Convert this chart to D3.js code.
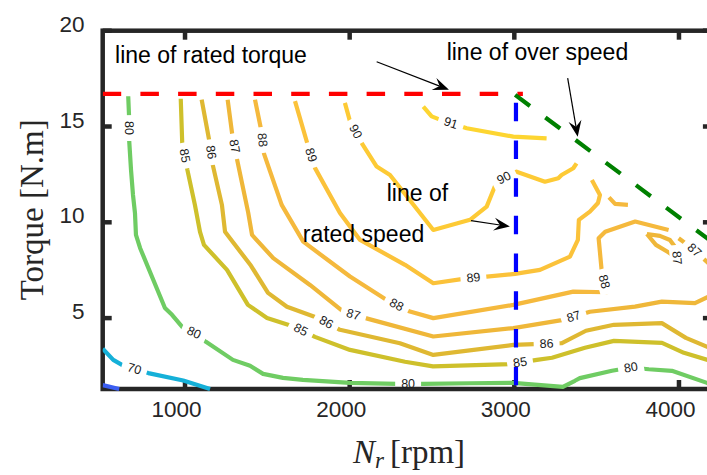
<!DOCTYPE html>
<html>
<head>
<meta charset="utf-8">
<script src="https://cdn.jsdelivr.net/npm/d3@7"></script>
<style>
body { margin: 0; background: #fff; }
svg { display: block; }
.tickLabel { font-family: "Liberation Sans", Arial, sans-serif; font-size: 22.5px; fill: #262626; }
.note { font-family: "Liberation Sans", Arial, sans-serif; font-size: 23px; fill: #000; }
.clabel { font-family: "Liberation Sans", Arial, sans-serif; font-size: 12.5px; fill: #1a1a1a; }
.axisTitle { font-family: "Liberation Serif", "Times New Roman", serif; font-size: 33px; fill: #262626; }
</style>
</head>
<body>
<script>
//ticks
var xTicks = [1000, 2000, 3000, 4000];
var yTicks = [5, 10, 15, 20];
//efficiency levels of the contours
var levels = [60, 70, 80, 85, 86, 87, 88, 89, 90, 91];

//contour lines, [speed rpm, torque N.m]
var eff60 = [[500,1.5],[600,1.3]];
var eff70 = [[500,3.40],[564,2.82],[625,2.52],[777,2.13],[989,1.74],[1152,1.3]];
var eff80 = [[655,16.58],[660,15.55],[661,14.25],[672,12.73],[684,11.43],[696,10.49],[702,9.34],[727,8.66],[878,5.53],[921,5.17],[988,4.49],[1054,4.23],[1127,3.76],[1291,2.82],[1395,2.51],[1474,2.09],[1595,1.88],[1716,1.78],[2002,1.62],[2287,1.57],[2445,1.57],[2730,1.6],[2992,1.62],[3295,1.41],[3368,1.73],[3398,1.87],[3593,2.25],[3708,2.42],[3817,2.33],[3957,2.25],[4170,1.62],[4200,1.5]];
var eff85 = [[974,16.45],[983,14.14],[1014,12.75],[1060,10.91],[1091,9.5],[1115,8.82],[1255,7.52],[1382,5.69],[1498,5.01],[1668,4.54],[1789,4.02],[2002,3.34],[2336,2.72],[2506,2.48],[2973,2.6],[3137,2.82],[3229,2.93],[3429,3.45],[3605,3.81],[3897,3.71],[4030,3.19],[4200,2.75]];
var eff86 = [[1101,16.4],[1146,14.31],[1168,13.01],[1224,10.91],[1243,9.51],[1273,9.17],[1401,7.73],[1504,6.32],[1619,5.59],[1807,5.01],[1941,4.39],[2305,3.69],[2508,3.08],[2994,3.6],[3289,3.69],[3435,4.34],[3605,4.65],[3896,4.74],[4042,3.97],[4200,3.4]];
var eff87 = [[1259,16.4],[1287,14.57],[1314,13.36],[1384,10.49],[1407,9.34],[1536,8.13],[1759,6.73],[1961,5.34],[2113,4.96],[2508,4.04],[2994,4.48],[3297,4.91],[3459,5.33],[3733,5.6],[3896,5.86],[4097,5.78],[4200,6.2]];
var eff87b = [[3805,9.39],[3884,9.29],[3945,9.08],[3981,8.66],[3987,8.14],[3933,8.45],[3860,8.82],[3805,9.39]];
var eff87c = [[3998,9.17],[4079,8.65],[4200,7.7]];
var eff88 = [[1425,16.4],[1460,14.92],[1480,13.57],[1516,12.67],[1587,10.91],[1718,8.99],[2002,7.17],[2225,5.95],[2366,5.34],[2508,5.0],[2994,5.69],[3358,6.38],[3563,6.35],[3532,7.34],[3512,9.17],[3552,9.51],[3734,10.04],[3937,9.6]];
var eff88b = [[3575,11.3],[3612,10.96],[3690,10.91]];
var eff89 = [[1668,16.32],[1742,14.14],[1789,12.84],[1941,10.49],[2063,9.08],[2336,7.78],[2508,6.82],[2690,7.05],[3004,7.31],[3156,7.52],[3338,8.21],[3386,9.08],[3392,10.13],[3459,10.56],[3508,11.01],[3520,11.43],[3471,12.21]];
var eff90 = [[1971,16.23],[2002,15.27],[2079,14.05],[2164,12.91],[2245,12.47],[2508,9.6],[2731,10.13],[2832,10.82],[2893,12.12],[3014,12.64],[3186,12.12],[3267,12.3],[3287,12.47],[3358,12.82],[3378,13.08]];
var eff91 = [[2447,16.04],[2498,15.53],[2548,15.36],[2711,14.91],[2994,14.47],[3196,14.38]];

//inline labels [level, rpm, torque]
var labelSpots = [
    [70, 696, 2.47],
    [80, 660, 14.92], [80, 1054, 4.23], [80, 2355, 1.6], [80, 3708, 2.42],
    [85, 1010, 13.5], [85, 1710, 4.5], [85, 3034, 2.72],
    [86, 1168, 13.67], [86, 1860, 4.82], [86, 3196, 3.7],
    [87, 1314, 13.99], [87, 2022, 5.17], [87, 3358, 5.15], [87, 3987, 8.14], [87, 4095, 8.55],
    [88, 1470, 14.3], [88, 2285, 5.69], [88, 3548, 6.9],
    [89, 1769, 13.52], [89, 2751, 7.15],
    [90, 2043, 14.77], [90, 2923, 12.56],
    [91, 2619, 15.3]
];

//operating limits
var ratedTorque = [[500,16.7],[3052,16.7]];
var ratedSpeed = [[3010,1.5],[3010,16.7]];
var overSpeed = [[3005,16.65],[4200,8.98]];

//annotations
var notes = [["line of rated torque",575,18.32],["line of over speed",2589,18.47],["line of",2225,11.12],["rated speed",1715,8.99]];
var arrows = [[2164,18.38,2603,16.92],[3324,17.52,3385,14.47],[2737,10.09,2973,9.78]];

var width = 707, height = 475;

var svg = d3.select("body").append("svg")
    .attr("width", width)
    .attr("height", height);

var x = d3.scaleLinear().domain([500, 4200]).range([102.7, 711.9]);
var y = d3.scaleLinear().domain([1.3, 20]).range([389, 30.7]);

var color = d3.scaleOrdinal()
    .domain(levels)
    .range(["#3b5ef2","#15b0d8","#6fcc63","#cec02b","#dfb832","#efb739","#f5b93d","#fbc23a","#fdca35","#fdd531"]);

var pieces = [[60,eff60],[70,eff70],[80,eff80],[85,eff85],[86,eff86],[87,eff87],[87,eff87b],[87,eff87c],
    [88,eff88],[88,eff88b],[89,eff89],[90,eff90],[91,eff91]];

var defs = svg.append("defs");
defs.append("clipPath").attr("id", "plotClip")
    .append("rect")
    .attr("x", x(500)).attr("y", y(20))
    .attr("width", x(4200) - x(500)).attr("height", y(1.3) - y(20) + 3);

//axes box and ticks
var axis = svg.append("g").attr("class", "axis");
axis.append("rect")
    .attr("x", x(500)).attr("y", y(20))
    .attr("width", x(4200) - x(500)).attr("height", y(1.3) - y(20))
    .attr("fill", "none").attr("stroke", "#262626").attr("stroke-width", 4.5);

xTicks.forEach(function(t){
    axis.append("line").attr("x1", x(t)).attr("x2", x(t)).attr("y1", y(1.3)).attr("y2", y(1.3) - 9)
        .attr("stroke", "#262626").attr("stroke-width", 4.5);
    axis.append("line").attr("x1", x(t)).attr("x2", x(t)).attr("y1", y(20)).attr("y2", y(20) + 9)
        .attr("stroke", "#262626").attr("stroke-width", 4.5);
    axis.append("text").attr("class", "tickLabel")
        .attr("x", x(t) - 8.5).attr("y", 416.5)
        .attr("text-anchor", "middle").text(t);
});
yTicks.forEach(function(t){
    axis.append("line").attr("x1", x(500)).attr("x2", x(500) + 9).attr("y1", y(t)).attr("y2", y(t))
        .attr("stroke", "#262626").attr("stroke-width", 4.5);
    axis.append("line").attr("x1", x(4200)).attr("x2", x(4200) - 9).attr("y1", y(t)).attr("y2", y(t))
        .attr("stroke", "#262626").attr("stroke-width", 4.5);
    axis.append("text").attr("class", "tickLabel")
        .attr("x", 84.5).attr("y", y(t) + 1)
        .attr("text-anchor", "end").text(t);
});

//axis titles
svg.append("text").attr("class", "axisTitle")
    .attr("transform", "translate(43," + (y(20) + y(1.3)) / 2 + ") rotate(-90)")
    .attr("text-anchor", "middle")
    .text("Torque [N.m]");

var xt = svg.append("text").attr("class", "axisTitle")
    .attr("x", 409).attr("y", 463)
    .attr("text-anchor", "middle");
xt.append("tspan").attr("font-style", "italic").text("N");
xt.append("tspan").attr("font-style", "italic").attr("font-size", "23px").attr("dy", 5).text("r");
xt.append("tspan").attr("dy", -5).attr("dx", 6).text("[rpm]");

//place each label on its contour, angle from nearest segment
var labels = labelSpots.map(function(s){
    var px = x(s[1]), py = y(s[2]);
    var best = null;
    pieces.forEach(function(p){
        if (p[0] !== s[0]) return;
        var pts = p[1];
        for (var i = 0; i < pts.length - 1; i++){
            var ax = x(pts[i][0]), ay = y(pts[i][1]), bx = x(pts[i+1][0]), by = y(pts[i+1][1]);
            var dx = bx - ax, dy = by - ay;
            var len2 = dx*dx + dy*dy;
            var t = len2 ? ((px - ax)*dx + (py - ay)*dy) / len2 : 0;
            t = Math.max(0, Math.min(1, t));
            var qx = ax + t*dx, qy = ay + t*dy;
            var d = (qx - px)*(qx - px) + (qy - py)*(qy - py);
            if (!best || d < best.d) best = {d: d, x: qx, y: qy, a: Math.atan2(dy, dx) * 180 / Math.PI};
        }
    });
    var a = best.a;
    if (a > 90) a -= 180;
    if (a < -90) a += 180;
    return {level: s[0], x: best.x, y: best.y, a: a};
});

//contour lines, each level masked where its labels sit
var contourLayer = svg.append("g").attr("clip-path", "url(#plotClip)");
var lineGen = d3.line().x(function(d){ return x(d[0]); }).y(function(d){ return y(d[1]); });

var labelLayer = svg.append("g");
labels.forEach(function(l){
    var txt = labelLayer.append("text").attr("class", "clabel")
        .attr("transform", "translate(" + l.x + "," + l.y + ") rotate(" + l.a + ")")
        .attr("text-anchor", "middle")
        .attr("dominant-baseline", "central")
        .text(l.level);
    l.w = txt.node().getComputedTextLength();
});

levels.forEach(function(lv){
    var m = defs.append("mask").attr("id", "mask" + lv)
        .attr("maskUnits", "userSpaceOnUse")
        .attr("x", 0).attr("y", 0).attr("width", width).attr("height", height);
    m.append("rect").attr("width", width).attr("height", height).attr("fill", "white");
    labels.filter(function(l){ return l.level === lv; }).forEach(function(l){
        m.append("rect")
            .attr("transform", "translate(" + l.x + "," + l.y + ") rotate(" + l.a + ")")
            .attr("x", -l.w / 2 - 6).attr("y", -7)
            .attr("width", l.w + 12).attr("height", 14)
            .attr("fill", "black");
    });
});

pieces.forEach(function(p){
    contourLayer.append("path")
        .datum(p[1])
        .attr("d", lineGen)
        .attr("mask", "url(#mask" + p[0] + ")")
        .attr("fill", "none")
        .attr("stroke", color(p[0]))
        .attr("stroke-width", 4.2)
        .attr("stroke-linejoin", "round");
});

//limit lines
var limits = svg.append("g").attr("clip-path", "url(#plotClip)");
[[ratedTorque, "#ff0000"], [ratedSpeed, "#0000ff"], [overSpeed, "#008000"]].forEach(function(l){
    limits.append("path")
        .datum(l[0])
        .attr("d", lineGen)
        .attr("fill", "none")
        .attr("stroke", l[1])
        .attr("stroke-width", 4.2)
        .attr("stroke-dasharray", "18.5,19.2");
});

labelLayer.raise();

//annotation texts and arrows
var ann = svg.append("g");
notes.forEach(function(n){
    ann.append("text").attr("class", "note")
        .attr("x", x(n[1])).attr("y", y(n[2]))
        .text(n[0]);
});
arrows.forEach(function(a){
    var x1 = x(a[0]), y1 = y(a[1]), x2 = x(a[2]), y2 = y(a[3]);
    var ang = Math.atan2(y2 - y1, x2 - x1);
    ann.append("line")
        .attr("x1", x1).attr("y1", y1)
        .attr("x2", x2 - 10 * Math.cos(ang)).attr("y2", y2 - 10 * Math.sin(ang))
        .attr("stroke", "#000").attr("stroke-width", 1.2);
    ann.append("path")
        .attr("d", "M0,0 L-16,-6.5 L-10,0 L-16,6.5 Z")
        .attr("transform", "translate(" + x2 + "," + y2 + ") rotate(" + ang * 180 / Math.PI + ")")
        .attr("fill", "#000");
});
</script>
</body>
</html>
